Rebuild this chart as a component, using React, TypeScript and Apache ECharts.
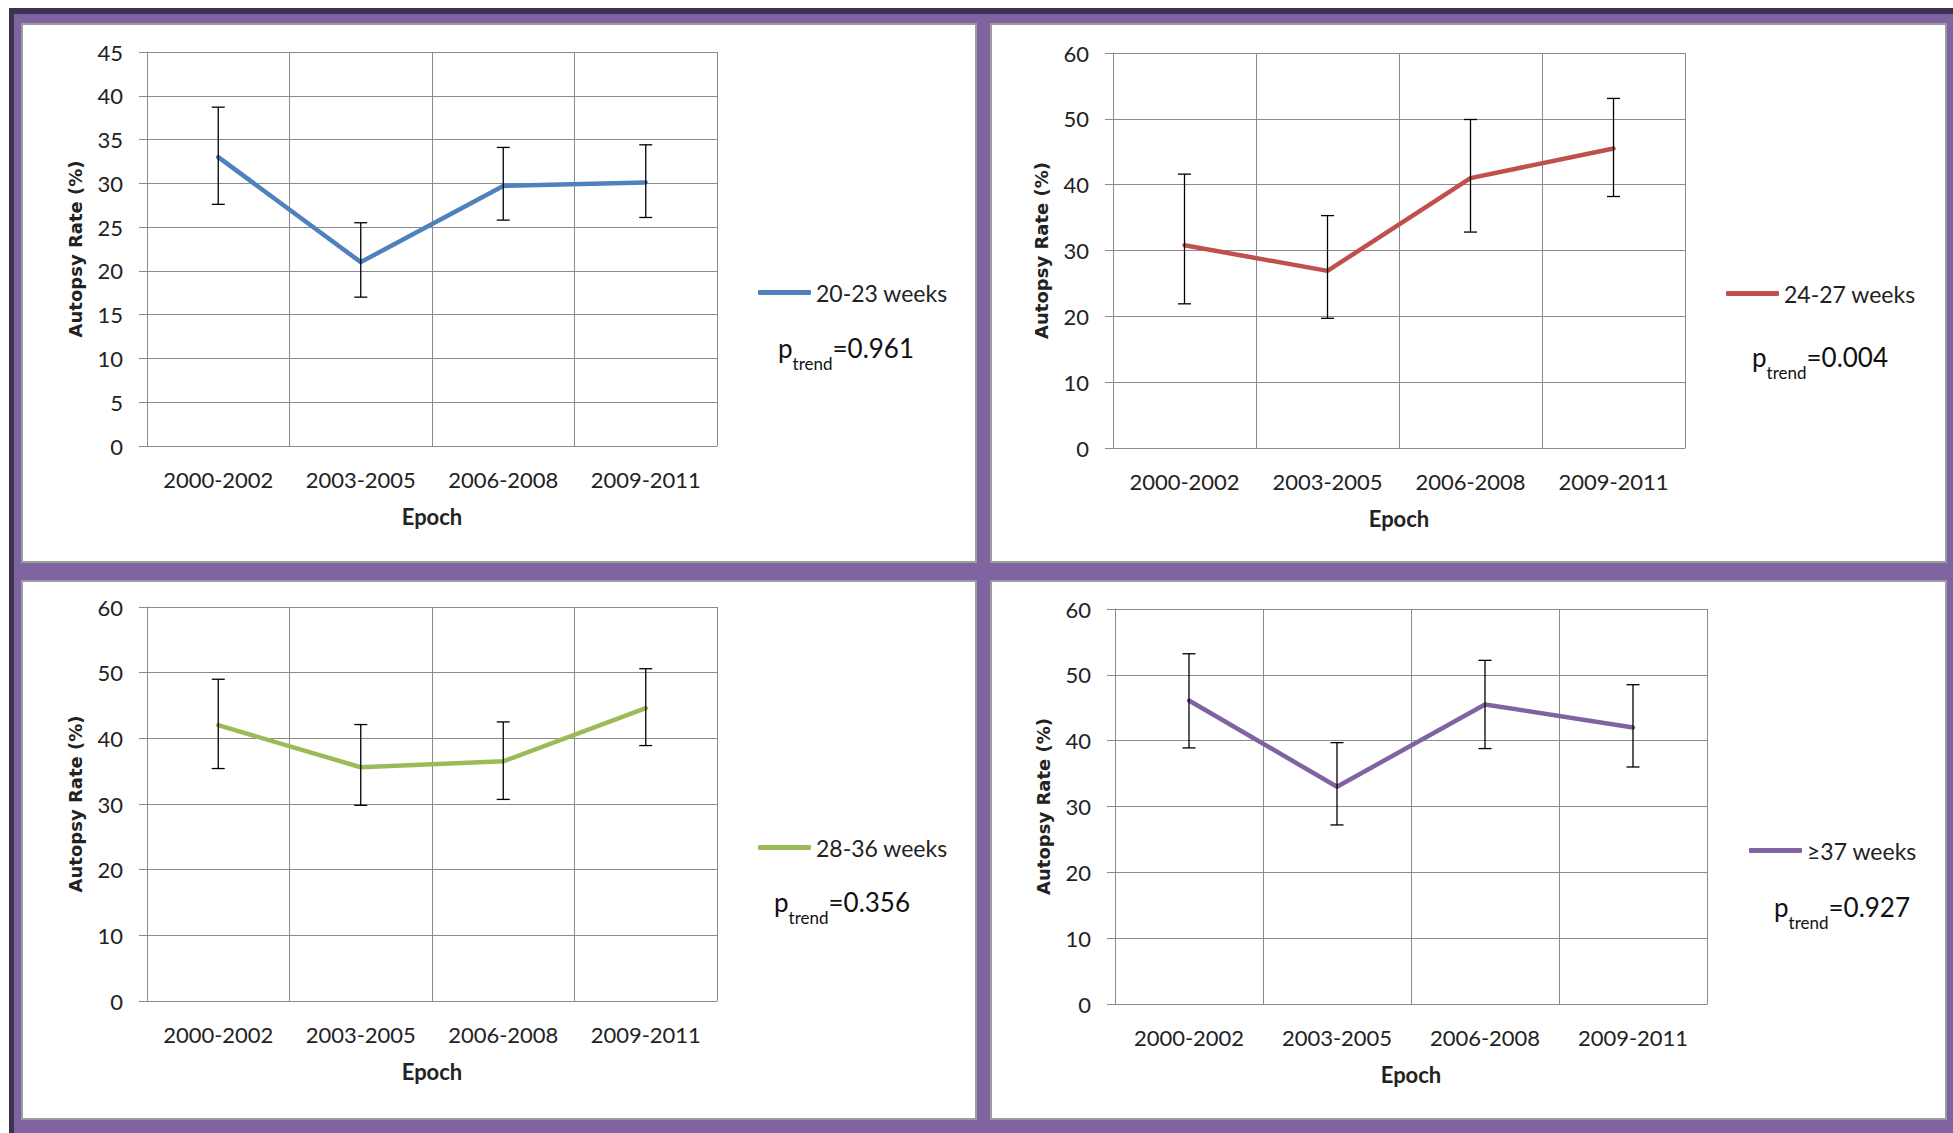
import React, { useEffect, useRef } from 'react';
import * as echarts from 'echarts';

const categories = ['2000-2002', '2003-2005', '2006-2008', '2009-2011'];

const seriesNames = ['20-23 weeks', '24-27 weeks', '28-36 weeks', '≥37 weeks'];
const pTrendValues = ['0.961', '0.004', '0.356', '0.927'];
const seriesColors = ['#4F81BD', '#C0504D', '#9BBB59', '#8064A2'];

const rate2023 = [33.0, 21.0, 29.7, 30.1];
const lower2023 = [27.6, 17.0, 25.8, 26.1];
const upper2023 = [38.7, 25.5, 34.1, 34.4];

const rate2427 = [30.8, 26.9, 41.0, 45.5];
const lower2427 = [21.9, 19.7, 32.8, 38.2];
const upper2427 = [41.6, 35.3, 49.9, 53.1];

const rate2836 = [42.0, 35.6, 36.5, 44.6];
const lower2836 = [35.4, 29.8, 30.7, 38.9];
const upper2836 = [49.0, 42.1, 42.5, 50.6];

const rate37 = [46.1, 33.0, 45.5, 42.0];
const lower37 = [38.9, 27.2, 38.8, 36.0];
const upper37 = [53.2, 39.7, 52.2, 48.5];

const yMaxes = [45, 60, 60, 60];
const ySteps = [5, 10, 10, 10];

const rates = [rate2023, rate2427, rate2836, rate37];
const lowers = [lower2023, lower2427, lower2836, lower37];
const uppers = [upper2023, upper2427, upper2836, upper37];

// layout (pixels)
const panels = [
  { box: [22, 24, 954, 538], grid: { left: 147, top: 52, width: 570, height: 394 }, legend: [758, 281], p: [778, 335] },
  { box: [991, 24, 955, 538], grid: { left: 1113, top: 53, width: 572, height: 395 }, legend: [1726, 282], p: [1752, 344] },
  { box: [22, 581, 954, 538], grid: { left: 147, top: 607, width: 570, height: 394 }, legend: [758, 836], p: [774, 889] },
  { box: [991, 581, 955, 538], grid: { left: 1115, top: 609, width: 592, height: 395 }, legend: [1749, 839], p: [1774, 894] },
];

const GREY = '#8a8a8a';
const TEXT = '#222222';

export default function App() {
  const ref = useRef<HTMLDivElement>(null);

  useEffect(() => {
    if (!ref.current) return;
    const chart = echarts.init(ref.current, undefined, { renderer: 'svg' });

    const errorRender = (params: any, api: any) => {
      const x = api.value(0);
      const lo = api.coord([x, api.value(1)]);
      const hi = api.coord([x, api.value(2)]);
      const cap = 6.5;
      const style = { stroke: '#000000', lineWidth: 1.3 };
      return {
        type: 'group',
        children: [
          { type: 'line', shape: { x1: lo[0], y1: lo[1], x2: hi[0], y2: hi[1] }, style },
          { type: 'line', shape: { x1: hi[0] - cap, y1: hi[1], x2: hi[0] + cap, y2: hi[1] }, style },
          { type: 'line', shape: { x1: lo[0] - cap, y1: lo[1], x2: lo[0] + cap, y2: lo[1] }, style },
        ],
      };
    };

    const graphic: any[] = [
      { type: 'rect', z: -20, shape: { x: 9, y: 8, width: 1944, height: 1125 }, style: { fill: '#3F3151' } },
      { type: 'rect', z: -19, shape: { x: 14, y: 14, width: 1939, height: 1119 }, style: { fill: '#8064A2' } },
    ];
    panels.forEach((p, i) => {
      graphic.push({
        type: 'rect', z: -18,
        shape: { x: p.box[0], y: p.box[1], width: p.box[2], height: p.box[3] },
        style: { fill: '#ffffff', stroke: '#9c9c9c', lineWidth: 2 },
      });
      graphic.push({
        type: 'text', z: 10, x: p.p[0], y: p.p[1],
        style: {
          text: '{p|p}{s|trend}{v|=' + pTrendValues[i] + '}',
          verticalAlign: 'top',
          align: 'left',
          rich: {
            p: { fontFamily: 'Lato', fontSize: 26, lineHeight: 30, verticalAlign: 'top', fill: '#111111', color: '#111111' },
            s: { fontFamily: 'Lato', fontSize: 17, lineHeight: 17, padding: [20, 0, 0, 0], verticalAlign: 'top', fill: '#111111', color: '#111111' },
            v: { fontFamily: 'Lato', fontSize: 26, lineHeight: 30, verticalAlign: 'top', fill: '#111111', color: '#111111' },
          },
        },
      });
    });

    const option: any = {
      animation: false,
      backgroundColor: '#ffffff',
      graphic,
      grid: panels.map((p) => ({ ...p.grid, containLabel: false, show: false })),
      legend: panels.map((p, i) => ({
        data: [seriesNames[i]],
        left: p.legend[0],
        top: p.legend[1],
        padding: 0,
        icon: 'roundRect',
        itemWidth: 53,
        itemHeight: 5,
        selectedMode: false,
        textStyle: { fontFamily: 'Lato', fontSize: 23, color: TEXT },
      })),
      xAxis: panels.map((p, i) => ({
        type: 'category',
        gridIndex: i,
        data: categories,
        boundaryGap: true,
        name: 'Epoch',
        nameLocation: 'middle',
        nameGap: 59,
        nameTextStyle: { fontFamily: 'Lato', fontWeight: 'bold', fontSize: 22, color: TEXT },
        axisLine: { show: true, lineStyle: { color: GREY, width: 1 } },
        axisTick: { show: false },
        axisLabel: { fontFamily: 'Lato', fontSize: 22, color: TEXT, margin: 22, interval: 0 },
        splitLine: { show: true, lineStyle: { color: GREY, width: 1 } },
      })),
      yAxis: panels.map((p, i) => ({
        type: 'value',
        gridIndex: i,
        min: 0,
        max: yMaxes[i],
        interval: ySteps[i],
        name: 'Autopsy Rate (%)',
        nameLocation: 'middle',
        nameRotate: 90,
        nameGap: 63,
        nameTextStyle: { fontFamily: 'DejaVu Sans', fontWeight: 'bold', fontSize: 18, color: TEXT },
        axisLine: { show: true, lineStyle: { color: GREY, width: 1 } },
        axisTick: { show: true, length: 8, lineStyle: { color: GREY, width: 1 } },
        axisLabel: { fontFamily: 'Lato', fontSize: 22, color: TEXT, margin: 24 },
        splitLine: { show: true, lineStyle: { color: GREY, width: 1 } },
      })),
      series: [
        ...panels.map((p, i) => ({
          type: 'line',
          name: seriesNames[i],
          xAxisIndex: i,
          yAxisIndex: i,
          data: rates[i],
          symbol: 'none',
          z: 3,
          color: seriesColors[i],
          itemStyle: { color: seriesColors[i] },
          lineStyle: { color: seriesColors[i], width: 4.5, cap: 'round', join: 'round' },
        })),
        ...panels.map((p, i) => ({
          type: 'custom',
          name: 'err' + i,
          xAxisIndex: i,
          yAxisIndex: i,
          z: 4,
          data: categories.map((c, j) => [j, lowers[i][j], uppers[i][j]]),
          encode: { x: 0, y: [1, 2] },
          renderItem: errorRender,
        })),
      ],
    };

    chart.setOption(option);
    return () => chart.dispose();
  }, []);

  return (
    <div
      ref={ref}
      style={{ position: 'absolute', left: 0, top: 0, width: 1953, height: 1133 }}
    />
  );
}
